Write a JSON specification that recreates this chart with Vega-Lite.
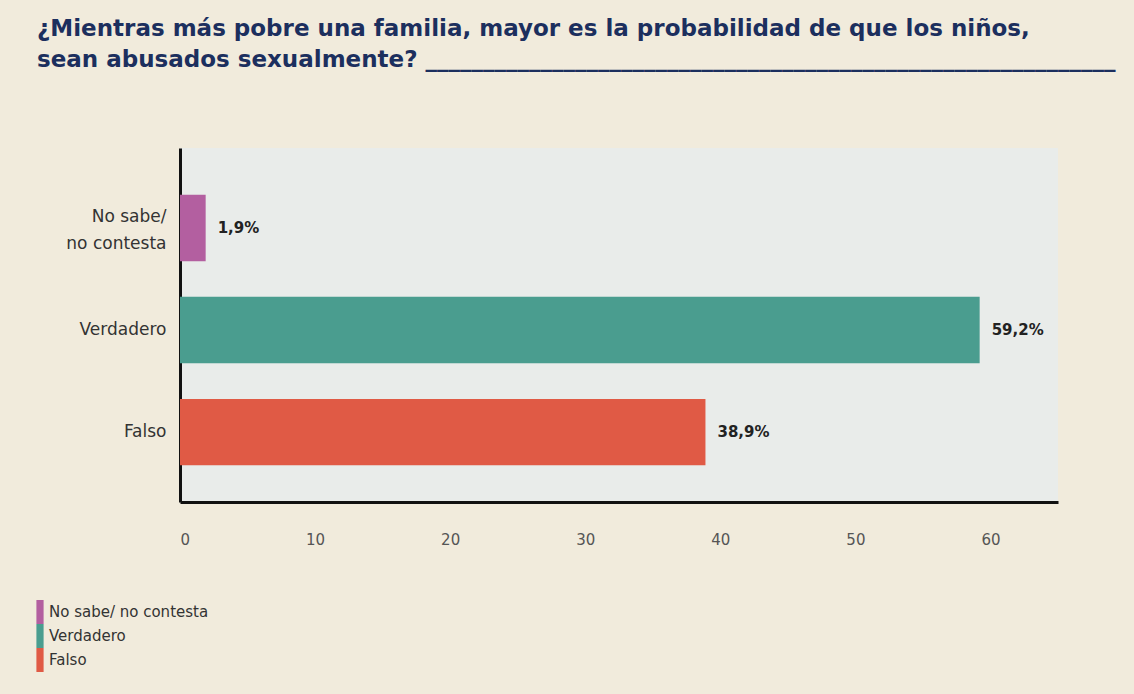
{
  "$schema": "https://vega.github.io/schema/vega-lite/v6.json",
  "width": 878,
  "height": 354,
  "autosize": "none",
  "padding": {"left": 180, "top": 148, "right": 76, "bottom": 192},
  "background": "#f1ebdc",
  "title": {
    "text": ["¿Mientras más pobre una familia, mayor es la probabilidad de que los niños,", "sean abusados sexualmente? ____________________________________________________________"],
    "anchor": "start",
    "frame": "group",
    "dx": -143,
    "offset": 76,
    "font": "DejaVu Sans",
    "fontSize": 23,
    "fontWeight": "bold",
    "color": "#1c2f5e",
    "lineHeight": 31
  },
  "data": {
    "values": [
      {"respuesta": "No sabe/ no contesta", "porcentaje": 1.9, "etiqueta": "1,9%"},
      {"respuesta": "Verdadero", "porcentaje": 59.2, "etiqueta": "59,2%"},
      {"respuesta": "Falso", "porcentaje": 38.9, "etiqueta": "38,9%"}
    ]
  },
  "encoding": {
    "y": {
      "field": "respuesta",
      "type": "nominal",
      "sort": ["No sabe/ no contesta", "Verdadero", "Falso"],
      "scale": {"paddingInner": 0.35, "paddingOuter": 0.41, "align": 0.56},
      "axis": {
        "title": null,
        "domain": true,
        "domainColor": "#111111",
        "domainWidth": 3,
        "ticks": false,
        "labelPadding": 14,
        "labelFont": "DejaVu Sans",
        "labelFontSize": 17,
        "labelColor": "#333333",
        "labelLineHeight": 27,
        "labelOffset": {"condition": {"test": "datum.value == 'No sabe/ no contesta'", "value": -11}, "value": 0},
        "labelExpr": "datum.value == 'No sabe/ no contesta' ? ['No sabe/', 'no contesta'] : datum.value"
      }
    }
  },
  "layer": [
    {
      "mark": {"type": "bar"},
      "encoding": {
        "x": {
          "field": "porcentaje",
          "type": "quantitative",
          "scale": {"domain": [0, 65], "nice": false},
          "axis": {
            "title": null,
            "values": [0, 10, 20, 30, 40, 50, 60],
            "grid": false,
            "ticks": false,
            "domainColor": "#111111",
            "domainWidth": 3,
            "labelPadding": 30,
            "labelFont": "DejaVu Sans",
            "labelFontSize": 15,
            "labelColor": "#555555"
          }
        },
        "color": {
          "field": "respuesta",
          "type": "nominal",
          "sort": ["No sabe/ no contesta", "Verdadero", "Falso"],
          "scale": {"domain": ["No sabe/ no contesta", "Verdadero", "Falso"], "range": ["#b35fa0", "#4a9d8f", "#e05a45"]},
          "legend": {
            "title": null,
            "orient": "none",
            "legendX": -152,
            "legendY": 452,
            "symbolType": "M-0.3,-1L0.3,-1L0.3,1L-0.3,1Z",
            "symbolSize": 576,
            "symbolStrokeWidth": 0,
            "symbolOpacity": 1,
            "rowPadding": 0,
            "labelFont": "DejaVu Sans",
            "labelFontSize": 15,
            "labelColor": "#333333",
            "labelOffset": -3
          }
        }
      }
    },
    {
      "mark": {"type": "text", "align": "left", "dx": 12, "font": "DejaVu Sans", "fontSize": 15, "fontWeight": "bold", "color": "#222222"},
      "encoding": {
        "x": {"field": "porcentaje", "type": "quantitative"},
        "text": {"field": "etiqueta", "type": "nominal"}
      }
    }
  ],
  "config": {
    "view": {"fill": "#e9ecea", "stroke": null}
  }
}
